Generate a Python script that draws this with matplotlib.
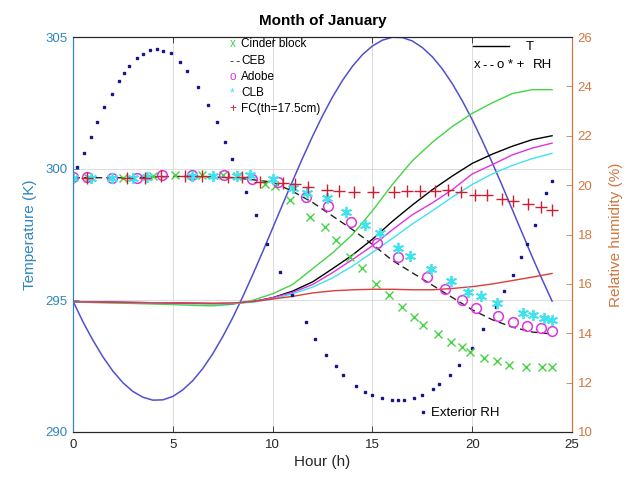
import matplotlib
matplotlib.use("Agg")
import matplotlib.pyplot as plt
from matplotlib.lines import Line2D

plt.rcParams['font.family'] = ['Liberation Sans', 'DejaVu Sans']

# ---------------- data ----------------
hours = list(range(25))

# exterior temperature, read every half hour
ext_hours = [0, 0.5, 1, 1.5, 2, 2.5, 3, 3.5, 4, 4.5, 5, 5.5, 6, 6.5, 7, 7.5, 8, 8.5, 9, 9.5,
             10, 10.5, 11, 11.5, 12, 12.5, 13, 13.5, 14, 14.5, 15, 15.5, 16, 16.5, 17, 17.5,
             18, 18.5, 19, 19.5, 20, 20.5, 21, 21.5, 22, 22.5, 23, 23.5, 24]
t_ext = [294.97, 294.18, 293.48, 292.85, 292.31, 291.87, 291.54, 291.32, 291.21, 291.22,
         291.35, 291.60, 291.95, 292.41, 292.97, 293.62, 294.34, 295.13, 295.97, 296.84,
         297.74, 298.64, 299.53, 300.40, 301.23, 302.01, 302.72, 303.35, 303.89, 304.33,
         304.66, 304.88, 304.99, 304.98, 304.85, 304.60, 304.25, 303.79, 303.23, 302.58,
         301.86, 301.07, 300.23, 299.36, 298.46, 297.56, 296.66, 295.80, 294.97]
t_cinder = [294.95, 294.92, 294.9, 294.88, 294.86, 294.84, 294.81, 294.79, 294.85, 295.0,
            295.25, 295.6, 296.2, 296.8, 297.5, 298.4, 299.4, 300.3, 301.0, 301.6,
            302.1, 302.5, 302.85, 303.0, 303.0]
t_ceb = [294.95, 294.94, 294.93, 294.92, 294.91, 294.9, 294.89, 294.88, 294.88, 294.95,
         295.1, 295.35, 295.7, 296.2, 296.72, 297.32, 298.0, 298.62, 299.2, 299.72,
         300.2, 300.55, 300.85, 301.1, 301.25]
t_adobe = [294.95, 294.94, 294.93, 294.92, 294.91, 294.9, 294.89, 294.88, 294.88, 294.95,
           295.1, 295.3, 295.6, 296.05, 296.55, 297.07, 297.68, 298.25, 298.7, 299.2,
           299.8, 300.15, 300.52, 300.78, 300.97]
t_clb = [294.93, 294.92, 294.91, 294.9, 294.89, 294.88, 294.87, 294.87, 294.88, 294.93,
         295.05, 295.25, 295.5, 295.85, 296.3, 296.82, 297.35, 297.9, 298.4, 298.92,
         299.4, 299.8, 300.12, 300.38, 300.58]
t_fc = [294.94, 294.93, 294.92, 294.91, 294.9, 294.89, 294.88, 294.88, 294.9, 294.95,
        295.05, 295.15, 295.28, 295.36, 295.4, 295.42, 295.42, 295.4, 295.4, 295.45,
        295.52, 295.62, 295.75, 295.88, 296.02]
rh_ceb = [20.3, 20.3, 20.3, 20.3, 20.33, 20.35, 20.35, 20.33, 20.3, 20.22,
          20.12, 19.75, 19.3, 18.75, 18.2, 17.6, 16.95, 16.45, 15.95, 15.45,
          14.95, 14.55, 14.25, 14.05, 13.97]

ext_rh_t = [0.18, 0.55, 0.9, 1.2, 1.57, 1.94, 2.3, 2.57, 2.82, 3.19, 3.52, 3.86, 4.19, 4.52,
            4.9, 5.36, 5.73, 6.28, 6.75, 7.2, 7.6, 7.97, 8.65, 9.15, 9.7, 10.37, 10.96,
            11.66, 12.12, 12.67, 13.16, 13.54, 14.18, 14.63, 15.0, 15.5, 16.0, 16.3, 16.6,
            17.08, 17.47, 18.05, 18.35, 18.89, 19.34, 20.0, 20.56, 21.2, 21.6, 22.03,
            22.43, 22.76, 23.15, 23.7, 24.0]
ext_rh = [20.75, 21.29, 21.96, 22.57, 23.18, 23.69, 24.22, 24.53, 24.84, 25.14, 25.33, 25.46,
          25.5, 25.45, 25.34, 25.0, 24.64, 23.99, 23.25, 22.57, 21.76, 21.05, 19.71, 18.77,
          17.6, 16.5, 15.53, 14.45, 13.77, 13.13, 12.68, 12.32, 11.87, 11.64, 11.48, 11.36,
          11.28, 11.28, 11.30, 11.37, 11.48, 11.75, 11.94, 12.32, 12.72, 13.42, 14.18,
          15.08, 15.72, 16.34, 17.1, 17.6, 18.39, 19.67, 20.18]

cinder_t = [0.75, 2.5, 4.0, 5.1, 6.45, 7.5, 8.2, 9.6, 10.1, 10.87, 11.87, 12.62, 13.2, 13.88,
            14.5, 15.18, 15.83, 16.46, 17.08, 17.52, 18.3, 18.94, 19.47, 19.9, 20.6, 21.26,
            21.84, 22.7, 23.5, 24.0]
cinder_rh = [20.3, 20.3, 20.35, 20.42, 20.42, 20.4, 20.35, 20.05, 19.95, 19.4, 18.72, 18.3,
             17.78, 17.1, 16.63, 16.0, 15.53, 15.08, 14.65, 14.34, 13.98, 13.66, 13.44,
             13.26, 12.99, 12.88, 12.72, 12.63, 12.63, 12.63]

adobe_t = [0.0, 0.7, 1.94, 3.19, 4.47, 5.95, 7.57, 8.98, 10.29, 11.66, 12.76, 13.93, 15.25,
           16.3, 17.72, 18.64, 19.47, 20.19, 21.31, 22.03, 22.76, 23.43, 24.0]
adobe_rh = [20.33, 20.33, 20.3, 20.3, 20.4, 20.41, 20.41, 20.24, 20.12, 19.51, 19.16, 18.5,
            17.67, 17.1, 16.26, 15.8, 15.35, 15.04, 14.68, 14.45, 14.31, 14.2, 14.1]

clb_t = [0.0, 0.9, 1.94, 3.0, 3.7, 5.95, 7.0, 8.2, 8.87, 10.03, 11.04, 11.7, 12.74, 13.68,
         14.63, 15.38, 16.3, 16.88, 17.94, 18.94, 19.8, 20.44, 21.23, 22.53, 23.03, 23.6, 24.0]
clb_rh = [20.3, 20.3, 20.28, 20.3, 20.33, 20.38, 20.38, 20.38, 20.41, 20.24, 19.87, 19.67,
          19.47, 18.93, 18.39, 18.05, 17.45, 17.13, 16.6, 16.12, 15.69, 15.49, 15.22,
          14.81, 14.74, 14.61, 14.54]

fc_t = [0.7, 2.7, 3.6, 4.4, 5.6, 6.45, 7.78, 8.45, 9.37, 10.54, 11.12, 11.79, 12.71, 13.33,
        14.09, 15.05, 16.08, 16.72, 17.38, 18.14, 18.8, 19.42, 20.14, 20.76, 21.48, 22.06,
        22.78, 23.43, 24.0]
fc_rh = [20.3, 20.3, 20.3, 20.35, 20.38, 20.35, 20.32, 20.34, 20.12, 20.08, 20.03, 19.94,
         19.8, 19.77, 19.74, 19.74, 19.74, 19.77, 19.77, 19.77, 19.8, 19.74, 19.6, 19.58,
         19.44, 19.37, 19.23, 19.13, 19.0]

x_ticks = [0, 5, 10, 15, 20, 25]
t_ticks = [290, 295, 300, 305]
rh_ticks = [10, 12, 14, 16, 18, 20, 22, 24, 26]

# ---------------- styling ----------------
LEFT_C = '#2F86BF'
RIGHT_C = '#D3773F'
AX_C = '#262626'
c_ext = '#5050D0'
c_dot = '#16168A'
c_green = '#44D444'
c_mag = '#E033E0'
c_cyan = '#3FE3EE'
c_red = '#E03A3A'
c_plus = '#CC2030'

fig = plt.figure(figsize=(6.29, 4.80), dpi=100)
ax = fig.add_axes([0.1161, 0.1, 0.7933, 0.8229])
ax2 = ax.twinx()

# Left axis: temperatures
ax.plot(ext_hours, t_ext, color=c_ext, lw=1.1, zorder=3)
ax.plot(hours, t_cinder, color=c_green, lw=1.0, zorder=3)
ax.plot(hours, t_ceb, color='k', lw=1.0, zorder=3)
ax.plot(hours, t_adobe, color=c_mag, lw=1.0, zorder=3)
ax.plot(hours, t_clb, color=c_cyan, lw=1.0, zorder=3)
ax.plot(hours, t_fc, color=c_red, lw=1.0, zorder=3)

# Right axis: relative humidity
ax2.plot(ext_rh_t, ext_rh, ls='none', marker='s', ms=1.8, color=c_dot, mec=c_dot)
ax2.plot(hours, rh_ceb, color='#222222', lw=1.0, ls=(0, (5, 3)))
ax2.plot(cinder_t, cinder_rh, ls='none', marker='x', ms=6, mew=1.0, color=c_green)
ax2.plot(adobe_t, adobe_rh, ls='none', marker='o', ms=7, mew=1.1, mfc='none', color=c_mag)
ax2.plot(clb_t, clb_rh, ls='none', marker=(6, 2, 0), ms=8, mew=1.3, color=c_cyan)
ax2.plot(fc_t, fc_rh, ls='none', marker='+', ms=8, mew=1.0, color=c_plus)

# Limits & ticks
ax.set_xlim(0, 25)
ax.set_ylim(290, 305)
ax2.set_ylim(10, 26)
ax.set_xticks(x_ticks)
ax.set_yticks(t_ticks)
ax2.set_yticks(rh_ticks)

ax.grid(True, color='#DCDCDC', lw=0.7)
ax.set_axisbelow(True)

ax.tick_params(axis='x', direction='in', length=4, width=0.6, colors=AX_C, labelsize=9.5,
               top=True, pad=5)
ax.tick_params(axis='y', direction='in', length=4, width=0.6, colors=LEFT_C, labelsize=9.5, pad=4)
ax2.tick_params(axis='y', direction='in', length=4, width=0.6, colors=RIGHT_C, labelsize=9.5, pad=4)

for a in (ax, ax2):
    a.spines['left'].set_color(LEFT_C)
    a.spines['right'].set_color(RIGHT_C)
    a.spines['top'].set_color(AX_C)
    a.spines['bottom'].set_color(AX_C)
    for s in a.spines.values():
        s.set_linewidth(0.8)

ax.set_xlabel('Hour (h)', fontsize=11, color=AX_C, labelpad=3)
ax.set_ylabel('Temperature (K)', fontsize=11, color=LEFT_C, labelpad=6)
ax2.set_ylabel('Relative humidity (%)', fontsize=11, color=RIGHT_C, labelpad=12)
ax.set_title('Month of January', fontsize=11, fontweight='bold', color='k', pad=9)

# Text legend (top-left of centre)
DASH = '-\u2009-'
leg_rows = [('x', c_green, 'Cinder block'), (DASH, '#222222', 'CEB'), ('o', c_mag, 'Adobe'),
            ('*', c_cyan, 'CLB'), ('+', c_plus, 'FC(th=17.5cm)')]
ys = [0.982, 0.940, 0.899, 0.858, 0.818]
for (sym, col, lab), yy in zip(leg_rows, ys):
    fam = ['DejaVu Sans'] if sym == DASH else ['Liberation Sans', 'DejaVu Sans']
    ax2.text(0.314, yy, sym, transform=ax.transAxes, color=col, fontsize=8.0 if sym == DASH else 8.5,
             va='center', ha='left', family=fam)
    ax2.text(0.337, yy, lab, transform=ax.transAxes, color='k', fontsize=8.5, va='center', ha='left')

# T / RH legend (top right)
ax2.legend(handles=[Line2D([], [], color='k', lw=1.0)], labels=['T'], loc='upper left',
           bbox_to_anchor=(0.778, 1.02), frameon=False, handlelength=2.7, handletextpad=1.3,
           fontsize=9.5)
ax2.text(0.803, 0.929, 'x', transform=ax.transAxes, color='k', fontsize=9.5, va='center', ha='left')
ax2.text(0.821, 0.929, DASH, transform=ax.transAxes, color='k', fontsize=8.5, va='center',
         ha='left', family=['DejaVu Sans'])
ax2.text(0.850, 0.929, 'o * +', transform=ax.transAxes, color='k', fontsize=9.5, va='center', ha='left')
ax2.text(0.921, 0.929, 'RH', transform=ax.transAxes, color='k', fontsize=9.5, va='center', ha='left')

# Exterior RH label
ax.legend(handles=[Line2D([], [], ls='none', marker='s', ms=1.8, color=c_dot)],
          labels=['Exterior RH'], loc='lower left', bbox_to_anchor=(0.664, 0.002),
          frameon=False, handlelength=1.0, handletextpad=0.15, fontsize=9.5)

fig.savefig('out.png', dpi=100)
